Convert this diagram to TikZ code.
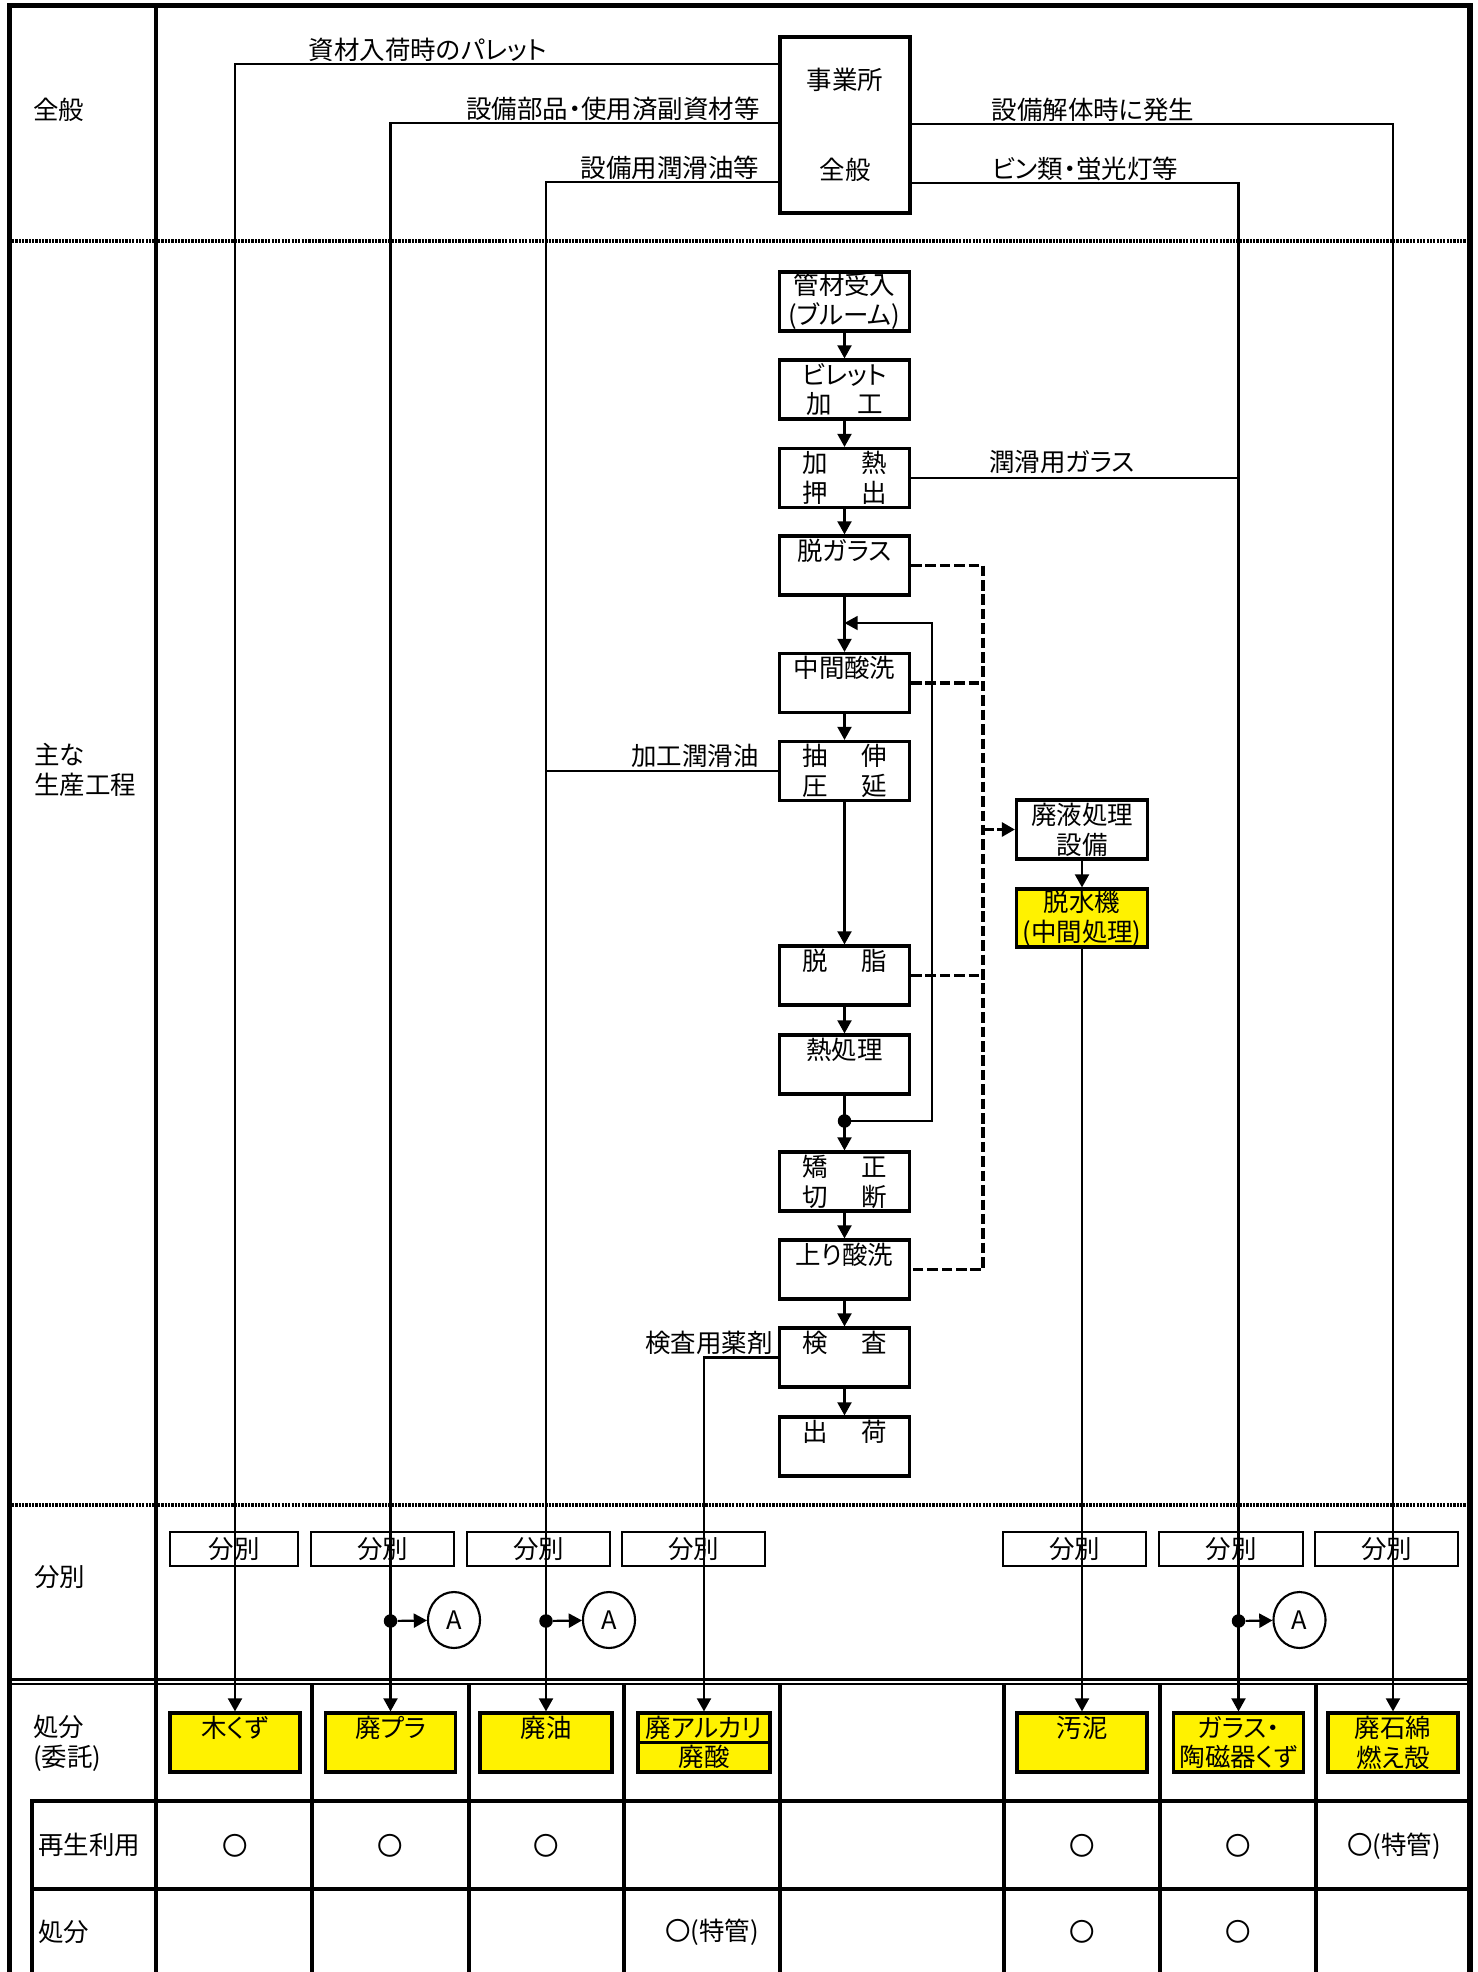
\documentclass[tikz,border=0pt]{standalone}
\usepackage{fontspec}
\setmainfont{Noto Sans CJK JP}[RawFeature=+palt]
\usepackage{tikz}
\usetikzlibrary{arrows.meta,shapes.geometric}
\newcommand{\kgap}{\hspace{1.3em}}

\begin{document}
\begin{tikzpicture}[x=0.02cm, y=-0.02cm,
    font=\fontsize{14.5pt}{17pt}\selectfont,
    frame/.style={line width=3pt},
    grid/.style={line width=1.8pt},
    sep/.style={line width=1.8pt, dash pattern=on 1.3pt off 0.6pt},
    proc/.style={draw, line width=1.8pt, minimum width=2.6cm, minimum height=1.18cm, inner sep=0pt, align=center},
    waste/.style={proc, fill=yellow},
    sortbox/.style={draw, line width=1.2pt, minimum height=0.68cm, inner sep=0pt, text height=1.05em, text depth=0pt},
    route/.style={line width=1.25pt},
    flow/.style={route, -{Triangle[width=8pt,length=7.5pt]}},
    drain/.style={line width=1.8pt, dash pattern=on 6pt off 2.2pt},
    tag/.style={draw, ellipse, line width=1.2pt, minimum width=1.04cm, minimum height=1.12cm, inner sep=0pt},
    dot/.style={circle, fill, inner sep=0pt, minimum size=0.27cm},
    lbl/.style={anchor=base, inner sep=0pt},
    side/.style={anchor=west, align=left, inner sep=0pt}
]
    \useasboundingbox (0,0) rectangle (1478,1972);

    % Frame and table rules
    \draw[frame] (9.5,1972) -- (9.5,5.5) -- (1470,5.5) -- (1470,1972);
    \draw[grid] (156,5.5) -- (156,1972);
    \draw[sep] (12,241) -- (154,241) (158,241) -- (1467,241);
    \draw[sep] (12,1505) -- (154,1505) (158,1505) -- (1467,1505);
    \draw[line width=1.5pt] (12,1679.5) -- (1467,1679.5) (12,1684) -- (1467,1684);
    \draw[grid] (32,1972) -- (32,1801) -- (1467,1801) (32,1889) -- (1467,1889);
    \draw[grid] (312,1684) -- (312,1972) (469,1684) -- (469,1972) (624,1684) -- (624,1972)
        (780,1684) -- (780,1972) (1004,1684) -- (1004,1972) (1160,1684) -- (1160,1972)
        (1316,1684) -- (1316,1972);

    % Row headings
    \node[side] (h1) at (33,110) {全般};
    \node[side] (h2) at (34,770) {主な\\生産工程};
    \node[side] (h3) at (34,1577) {分別};
    \node[side] (h4) at (33,1743) {処分\\(委託)};
    \node[side] (h5) at (38,1845) {再生利用};
    \node[side] (h6) at (38,1932) {処分};

    % Site in general
    \node[proc, minimum height=3.52cm] (jig) at (845,125) {事業所\\[1.2cm]全般};
    \coordinate (j1) at (780,64);
    \coordinate (j2) at (780,123);
    \coordinate (j3) at (780,182);
    \coordinate (j4) at (910,124);
    \coordinate (j5) at (910,183);
    \node[lbl] (t1) at (428,59) {資材入荷時のパレット};
    \node[lbl] (t2) at (613,118) {設備部品・使用済副資材等};
    \node[lbl] (t3) at (670,177) {設備用潤滑油等};
    \node[lbl] (t4) at (1093,119) {設備解体時に発生};
    \node[lbl] (t5) at (1085,178) {ビン類・蛍光灯等};

    % Main process, top to bottom
    \node[proc] (kan) at (844.5,301.5) {管材受入\\(ブルーム)};
    \node[proc] (bil) at (844.5,389.5) {ビレット\\加\hspace{1em}工};
    \node[proc] (kanetsu) at (844.5,478) {加\kgap 熱\\押\kgap 出};
    \node[proc] (datsu) at (844.5,565.5) {脱ガラス\\\phantom{脱}};
    \node[proc] (chukan) at (844.5,683) {中間酸洗\\\phantom{中}};
    \node[proc] (chushin) at (844.5,771) {抽\kgap 伸\\圧\kgap 延};
    \node[proc] (dasshi) at (844.5,975.5) {脱\kgap 脂\\\phantom{脱}};
    \node[proc] (netsu) at (844.5,1064.5) {熱処理\\\phantom{熱}};
    \node[proc] (kyosei) at (844.5,1181.5) {矯\kgap 正\\切\kgap 断};
    \node[proc] (agari) at (844.5,1269.5) {上り酸洗\\\phantom{上}};
    \node[proc] (kensa) at (844.5,1357.5) {検\kgap 査\\\phantom{検}};
    \node[proc] (shukka) at (844.5,1446.5) {出\kgap 荷\\\phantom{出}};

    \node[proc, minimum width=2.62cm] (haieki) at (1082,829.5) {廃液処理\\設備};
    \node[waste, minimum width=2.62cm, minimum height=1.16cm] (dassui) at (1082,918) {脱水機\\(中間処理)};

    \node[lbl] (t6) at (1062,471) {潤滑用ガラス};
    \node[lbl] (t7) at (695,765) {加工潤滑油};
    \node[lbl] (t8) at (709,1352) {検査用薬剤};

    \draw[flow] (kan) -- (bil);
    \draw[flow] (bil) -- (kanetsu);
    \draw[flow] (kanetsu) -- (datsu);
    \draw[flow] (datsu) -- (chukan);
    \draw[flow] (chukan) -- (chushin);
    \draw[flow] (chushin) -- (dasshi);
    \draw[flow] (dasshi) -- (netsu);
    \draw[flow] (netsu) -- (kyosei);
    \draw[flow] (kyosei) -- (agari);
    \draw[flow] (agari) -- (kensa);
    \draw[flow] (kensa) -- (shukka);
    \draw[flow] (haieki) -- (dassui);

    % Return to intermediate pickling
    \node[dot] (jn) at (844.5,1121) {};
    \coordinate (ret) at (844.5,623);
    \draw[flow, line width=0.9pt] (jn.center) -- ++(87.5,0) |- (ret);

    % Waste liquid
    \coordinate (bus) at (983,0);
    \draw[drain] (datsu.east) -- (datsu.east -| bus) -- (agari.east -| bus) -- (agari.east);
    \draw[drain] (chukan.east) -- (chukan.east -| bus);
    \draw[drain] (dasshi.east) -- (dasshi.east -| bus);
    \draw[drain, -{Triangle[width=8pt,length=7.5pt]}] (haieki.west -| bus) -- (haieki.west);

    % Disposal boxes
    \node[waste] (kuzu) at (235,1742.5) {木くず\\\phantom{木}};
    \node[waste] (pla) at (390.5,1742.5) {廃プラ\\\phantom{廃}};
    \node[waste, minimum width=2.64cm] (oil) at (546,1742.5) {廃油\\\phantom{廃}};
    \node[waste, minimum width=2.64cm, minimum height=0.59cm] (alk) at (704,1727.75) {廃アルカリ};
    \node[waste, minimum width=2.64cm, minimum height=0.59cm] (acid) at (704,1757.25) {廃酸};
    \node[waste] (sludge) at (1082,1742.5) {汚泥\\\phantom{汚}};
    \node[waste] (glass) at (1238.5,1742.5) {ガラス・\\陶磁器くず};
    \node[waste] (asb) at (1393,1742.5) {廃石綿\\燃え殻};

    % Routes to disposal
    \draw[flow] (j1) -| (kuzu.north);
    \draw[flow] (j2) -| (pla.north);
    \draw[flow] (j3) -| (oil.north);
    \draw[flow] (j4) -| (asb.north);
    \draw[flow] (j5) -| (glass.north);
    \draw[flow] (kensa.west) -| (alk.north);
    \draw[flow] (dassui) -- (sludge);
    \draw[route] (kanetsu.east) -- (kanetsu.east -| glass.north);
    \draw[route] (chushin.west) -- (chushin.west -| oil.north);

    % Sorting
    \node[sortbox, minimum width=2.56cm] (s1) at (234,1549) {分別};
    \node[sortbox, minimum width=2.86cm] (s2) at (382.5,1549) {分別};
    \node[sortbox, minimum width=2.86cm] (s3) at (538.5,1549) {分別};
    \node[sortbox, minimum width=2.86cm] (s4) at (693.5,1549) {分別};
    \node[sortbox, minimum width=2.86cm] (s6) at (1074.5,1549) {分別};
    \node[sortbox, minimum width=2.88cm] (s7) at (1231,1549) {分別};
    \node[sortbox, minimum width=2.86cm] (s8) at (1386.5,1549) {分別};

    \node[dot] (d2) at (390.5,1621) {};
    \node[tag] (a2) at (454,1620) {A};
    \draw[flow] (d2) -- (a2);
    \node[dot] (d3) at (546,1621) {};
    \node[tag] (a3) at (609,1620) {A};
    \draw[flow] (d3) -- (a3);
    \node[dot] (d7) at (1238.5,1621) {};
    \node[tag] (a7) at (1299.5,1620) {A};
    \draw[flow] (d7) -- (a7);

    % Recycling / disposal marks
    \node (r1) at (235,1846) {〇};
    \node (r2) at (390.5,1846) {〇};
    \node (r3) at (546,1846) {〇};
    \node (r6) at (1082,1846) {〇};
    \node (r7) at (1238.5,1846) {〇};
    \node (r8) at (1394,1846) {〇(特管)};
    \node (p4) at (712,1932) {〇(特管)};
    \node (p6) at (1082,1932) {〇};
    \node (p7) at (1238.5,1932) {〇};
\end{tikzpicture}
\end{document}
